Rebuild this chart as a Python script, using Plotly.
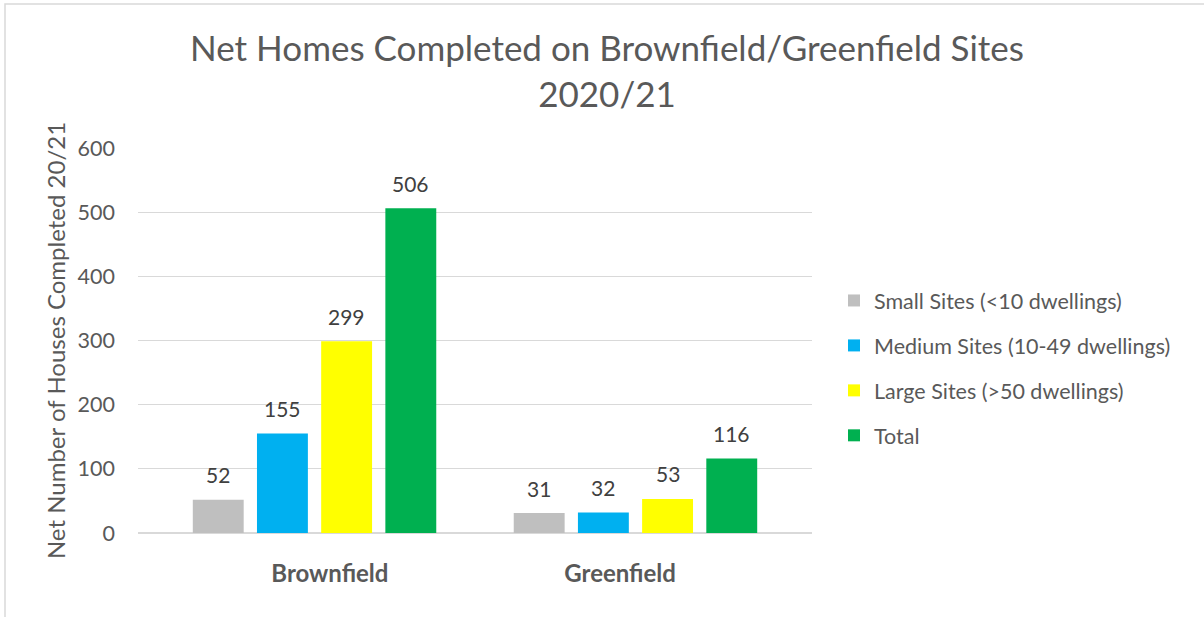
import plotly.graph_objects as go

categories = ["Brownfield", "Greenfield"]
series_names = ["Small Sites (<10 dwellings)", "Medium Sites (10-49 dwellings)",
                "Large Sites (>50 dwellings)", "Total"]
small = [52, 31]
medium = [155, 32]
large = [299, 53]
total = [506, 116]
colors = ["#BFBFBF", "#00B0F0", "#FFFF00", "#00B050"]

FONT = "Lato, Calibri, Carlito, sans-serif"
fig = go.Figure()
all_vals = [small, medium, large, total]
for i, (name, vals, col) in enumerate(zip(series_names, all_vals, colors)):
    fig.add_trace(go.Bar(
        x=categories, y=vals, name=name, legendgroup=f"g{i}",
        marker=dict(color=col, line=dict(width=0)),
    ))

# data labels placed above each bar
step_px = 64.3
for i, vals in enumerate(all_vals):
    for c, v in zip(categories, vals):
        fig.add_annotation(x=c, y=v, text=str(v), showarrow=False,
                           xshift=(i - 1.5) * step_px, yshift=25, yanchor="middle",
                           font=dict(size=21, color="#404040", family=FONT))

L, R_px, T, B = 138, 812, 148, 533
W, H = 1204, 617
pw = R_px - L
ph = B - T

def px_x(p):
    return (p - L) / pw

def px_y(p):
    return (B - p) / ph

nb = "&nbsp;" * 5
fig.update_layout(
    width=W, height=H,
    margin=dict(l=L, r=W - R_px, t=T, b=H - B, pad=0, autoexpand=False),
    paper_bgcolor="white", plot_bgcolor="white",
    barmode="group", bargap=0.2, bargroupgap=0.207,
    font=dict(family=FONT, color="#595959"),
    title=dict(text="Net Homes Completed on Brownfield/Greenfield Sites<br>2020/21",
               x=px_x(607), xref="paper", xanchor="center",
               y=1 - 61 / H, yanchor="top",
               font=dict(size=35, color="#595959", family=FONT)),
    xaxis=dict(range=[-0.55, 1.55], showgrid=False, zeroline=False,
               showline=False, ticks="", ticklabelstandoff=24,
               tickvals=categories,
               ticktext=[f"{nb}<b>{categories[0]}</b>", f"<b>{categories[1]}</b>{nb}"],
               tickfont=dict(size=24, color="#595959", family=FONT)),
    yaxis=dict(range=[0, 600], dtick=100, showgrid=True, gridcolor="#D9D9D9",
               gridwidth=1, zeroline=True, zerolinecolor="#D9D9D9", zerolinewidth=1.5,
               showline=False, ticks="", ticklabelstandoff=22,
               tickfont=dict(size=21.5, color="#595959", family=FONT),
               title=dict(text="Net Number of Houses Completed 20/21",
                          font=dict(size=24, color="#595959", family=FONT),
                          standoff=5)),
    legend=dict(x=px_x(834), xanchor="left", y=px_y(280), yanchor="top",
                font=dict(size=21.5, color="#595959", family=FONT),
                tracegroupgap=14, itemwidth=30, bgcolor="rgba(0,0,0,0)"),
    showlegend=True,
)

fig.add_shape(type="path", xref="paper", yref="paper",
              path=f"M {px_x(5)} {px_y(625)} L {px_x(5)} {px_y(4)} L {px_x(1215)} {px_y(4)}",
              line=dict(color="#D9D9D9", width=1.5))

fig.write_html("out.html", config={"displayModeBar": False},
               post_script="document.body.style.margin='0';document.body.style.padding='0';")
